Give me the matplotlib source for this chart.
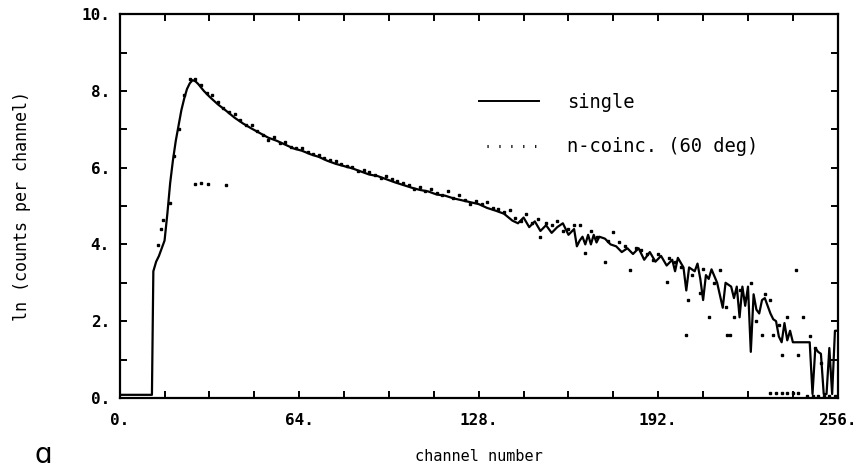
import matplotlib
matplotlib.use("Agg")
import matplotlib.pyplot as plt
from matplotlib.lines import Line2D

# single spectrum (channel, ln counts)
single_ch = [0, 11.5, 12, 13, 14, 15, 16, 17, 18, 19, 20, 21, 22, 23, 24, 25, 26, 27, 28, 30,
             32, 35, 38, 41, 44, 47, 50, 53, 56, 59, 62, 65, 68, 71, 74, 77, 80, 83, 86, 89,
             92, 95, 98, 101, 104, 107, 110, 113, 116, 119, 122, 125, 128, 131, 134, 137, 140,
             142, 144, 146, 148, 150, 152, 154, 156, 158, 160, 162, 163, 164, 165, 166, 167,
             168, 169, 170, 171, 173, 175, 177, 179, 181, 183, 185, 187, 189, 191, 193, 195,
             197, 198, 199, 201, 202, 203, 205, 206, 207, 208, 209, 210, 211, 213, 215, 216,
             218, 219, 220, 221, 222, 223, 224, 225, 226, 227, 228, 229, 230, 232, 233, 234,
             235, 236, 237, 238, 239, 240, 246, 247, 248, 249, 250, 251, 252, 253, 254, 255, 256]
single_val = [0.08, 0.08, 3.3, 3.55, 3.7, 3.9, 4.1, 4.8, 5.6, 6.2, 6.7, 7.1, 7.5, 7.8, 8.05, 8.2,
              8.28, 8.25, 8.18, 8.0, 7.85, 7.65, 7.48, 7.3, 7.15, 7.02, 6.9, 6.78, 6.7, 6.6, 6.5,
              6.44, 6.35, 6.28, 6.18, 6.1, 6.04, 5.98, 5.9, 5.82, 5.78, 5.7, 5.62, 5.55, 5.48,
              5.42, 5.38, 5.3, 5.27, 5.2, 5.15, 5.1, 5.05, 4.95, 4.88, 4.8, 4.62, 4.55, 4.7,
              4.45, 4.6, 4.35, 4.5, 4.3, 4.45, 4.55, 4.25, 4.4, 3.95, 4.1, 4.2, 4.0, 4.25, 4.0,
              4.25, 4.05, 4.2, 4.15, 4.0, 3.95, 3.8, 3.9, 3.75, 3.9, 3.6, 3.8, 3.55, 3.7, 3.45,
              3.6, 3.3, 3.65, 3.4, 2.8, 3.4, 3.3, 3.5, 3.1, 2.55, 3.2, 3.1, 3.35, 3.0, 2.35, 3.0,
              2.9, 2.6, 2.9, 2.1, 2.9, 2.4, 2.9, 1.2, 2.7, 2.3, 2.2, 2.55, 2.6, 2.2, 2.05, 2.0,
              1.6, 1.45, 1.95, 1.5, 1.75, 1.45, 1.45, 0.1, 1.3, 1.2, 1.15, 0.1, 0.1, 1.3, 0.1,
              1.75, 1.75]

# n-coincidence (60 deg) points
coinc_ch = [13.7, 14.8, 15.3, 17.8, 19.5, 21, 23, 25, 27, 29, 31, 33, 35, 37, 39, 41, 43, 45,
            47, 49, 51, 53, 55, 57, 59, 61, 63, 65, 67, 69, 71, 73, 75, 77, 79, 81, 83, 85, 87,
            89, 91, 93, 95, 97, 99, 101, 103, 105, 107, 109, 111, 113, 115, 117, 119, 121, 123,
            125, 127, 129, 131, 133, 135, 137, 139, 141, 143, 145, 147, 149, 150, 152, 154, 156,
            158, 160, 162, 164, 166, 168, 170, 173, 174, 176, 178, 180, 182, 184, 186, 188, 190,
            192, 195, 196, 198, 200, 202, 202.5, 204, 207, 208, 210, 212, 214, 216, 216.5,
            217.5, 219, 221, 223, 225, 227, 229, 230, 232, 233, 235, 236, 238, 241, 242, 243.5,
            246, 248, 250,
            27, 29, 31.5, 38,
            232, 234, 236, 238, 240, 242, 245, 247, 249, 251, 253, 255]
coinc_val = [3.98, 4.4, 4.63, 5.08, 6.3, 7.0, 7.9, 8.3, 8.3, 8.15, 7.95, 7.9, 7.7, 7.55, 7.45,
             7.4, 7.25, 7.1, 7.1, 6.95, 6.85, 6.72, 6.8, 6.65, 6.68, 6.55, 6.5, 6.5, 6.4, 6.35,
             6.32, 6.25, 6.2, 6.18, 6.1, 6.05, 6.02, 5.92, 5.95, 5.88, 5.82, 5.72, 5.78, 5.7,
             5.65, 5.6, 5.55, 5.45, 5.5, 5.38, 5.45, 5.35, 5.3, 5.38, 5.22, 5.28, 5.15, 5.05,
             5.12, 5.05, 5.1, 4.95, 4.92, 4.85, 4.9, 4.7, 4.6, 4.8, 4.55, 4.65, 4.2, 4.55, 4.5,
             4.6, 4.35, 4.4, 4.5, 4.5, 3.77, 4.35, 4.2, 3.55, 4.1, 4.33, 4.05, 3.95, 3.33, 3.9,
             3.85, 3.75, 3.6, 3.75, 3.02, 3.65, 3.55, 3.4, 1.64, 2.55, 3.2, 2.73, 3.35, 2.11,
             3.0, 3.33, 2.37, 1.64, 1.64, 2.11, 2.8, 2.6, 3.0, 2.0, 1.64, 2.7, 2.55, 1.64, 1.9,
             1.12, 2.11, 3.33, 1.12, 2.11, 1.6, 1.3, 0.9,
             5.57, 5.6, 5.57, 5.55,
             0.12, 0.12, 0.12, 0.12, 0.12, 0.12, 0.05, 0.05, 0.05, 0.05, 0.05, 0.05]

x_ticks = list(range(0, 257, 16))
x_labels = ["0.", "64.", "128.", "192.", "256."]
y_labels = ["0.", "2.", "4.", "6.", "8.", "10."]

mono = "DejaVu Sans Mono"

fig = plt.figure(figsize=(8.61, 4.72), dpi=100)
ax = fig.add_axes([0.139, 0.157, 0.834, 0.813])

ax.plot(single_ch, single_val, color="black", lw=1.6)
ax.plot(coinc_ch, coinc_val, ls="none", marker="s", ms=1.6, color="black")

ax.set_xlim(0, 256)
ax.set_ylim(0, 10)

ax.set_xticks(x_ticks, minor=True)
ax.set_xticks([0, 64, 128, 192, 256])
ax.set_xticklabels(x_labels, family=mono, fontsize=11.5, fontweight="bold")
ax.set_yticks(range(0, 11), minor=True)
ax.set_yticks(range(0, 11, 2))
ax.set_yticklabels(y_labels, family=mono, fontsize=11.5, fontweight="bold")
ax.tick_params(which="both", direction="in", top=True, right=True,
               length=5, width=1.4)
ax.tick_params(axis="x", which="both", pad=11)
ax.tick_params(axis="y", which="both", pad=7)
for s in ax.spines.values():
    s.set_linewidth(1.6)

ax.set_xlabel("channel number", family=mono, fontsize=11, labelpad=15)
ax.set_ylabel("ln (counts per channel)", family=mono, fontsize=12, labelpad=36)

handles = [Line2D([], [], color="black", lw=1.4),
           Line2D([], [], color="black", lw=2.2, ls=(1.3, (0.4, 3.5)))]
ax.legend(handles, ["single", "n-coinc. (60 deg)"], loc="upper left",
          bbox_to_anchor=(0.50, 0.795), frameon=False, borderpad=0, borderaxespad=0,
          handlelength=3.2, handletextpad=1.5, labelspacing=1.35,
          prop={"family": mono, "size": 13.5})

fig.text(0.05, 0.02, "\u0251", fontsize=20, ha="center", va="baseline")

fig.savefig("out.png", dpi=100)
